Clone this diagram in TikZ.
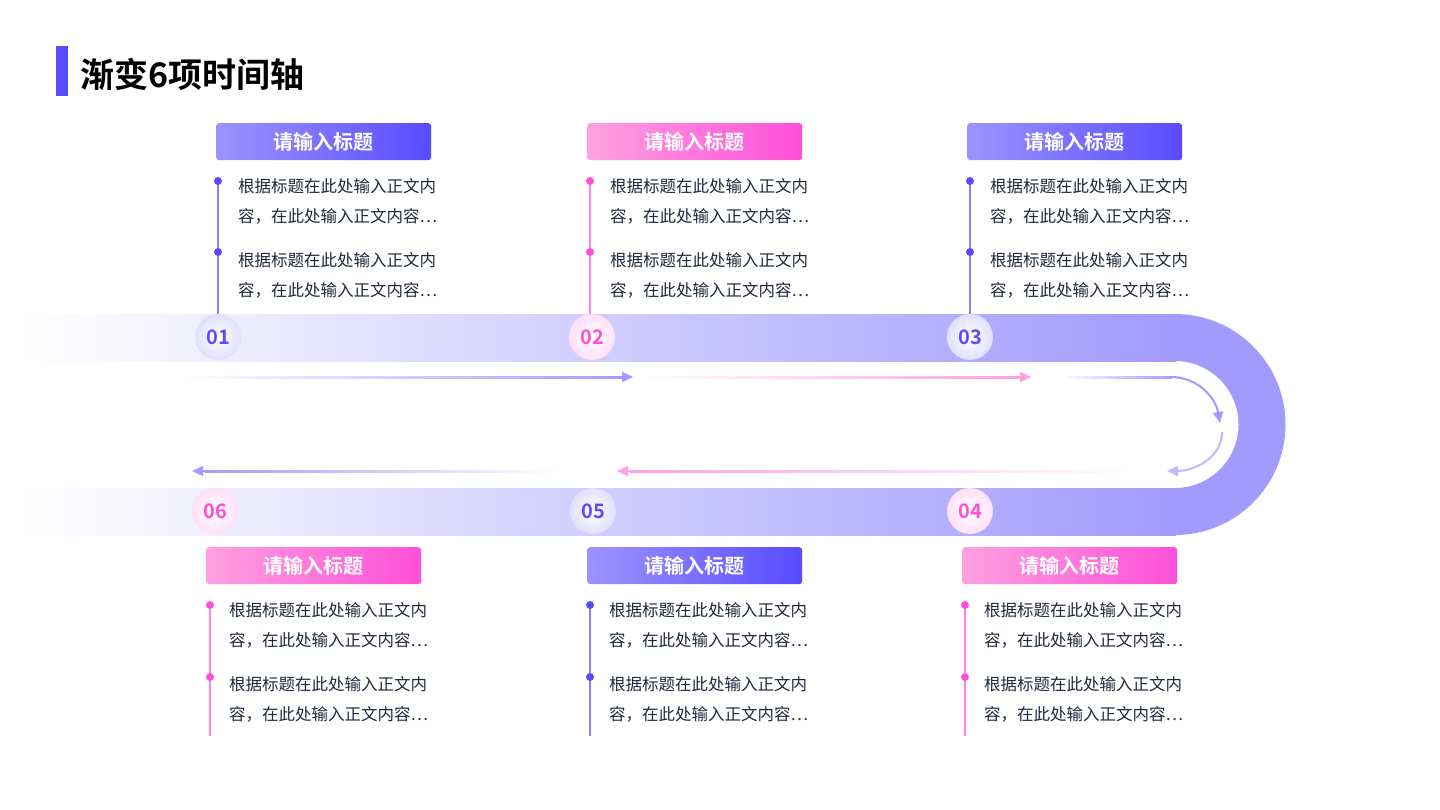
\documentclass[tikz,border=0pt]{standalone}
\usepackage{fontspec}
\setmainfont{Noto Sans CJK SC}[BoldFont={Noto Sans CJK SC Bold}]
\usetikzlibrary{arrows.meta,positioning}
\definecolor{vio}{RGB}{90,75,255}
\definecolor{violt}{RGB}{155,148,255}
\definecolor{band}{RGB}{162,155,254}
\definecolor{pnk}{RGB}{255,79,216}
\definecolor{pnklt}{RGB}{255,160,225}
\definecolor{txt}{RGB}{30,40,60}
\tikzset{
  titlebox/.style={minimum width=215pt, minimum height=37pt, rounded corners=3pt,
    text=white, font=\bfseries\fontsize{20}{20}\selectfont},
  numdot/.style={circle, minimum size=46pt, inner sep=0pt, font=\bfseries\fontsize{20}{20}\selectfont},
  bodytext/.style={anchor=north west, inner sep=0pt, align=left, text=txt,
    font=\fontsize{16.5}{30}\selectfont},
  tip/.style={-{Triangle[length=11pt,width=10pt]}, line width=2pt}
}
\begin{document}
\begin{tikzpicture}[x=1pt,y=-1pt]
  \useasboundingbox (0,0) rectangle (1440,810);

  % heading
  \fill[vio] (56,46) rectangle (68,96);
  \node[anchor=west, inner sep=0pt, font=\bfseries\fontsize{34}{34}\selectfont] (head) at (80,74) {渐变6项时间轴};

  % band
  \shade[left color=white, right color=band] (20,314) rectangle (1176,361);
  \shade[left color=white, right color=band] (20,488) rectangle (1176,535);
  \fill[band] (1175,314) arc[start angle=-90, end angle=90, radius=110.5]
    -- (1175,488) arc[start angle=90, end angle=-90, radius=63.5] -- cycle;

  % arrows
  \shade[left color=white, right color=band] (180,376) rectangle (622,378);
  \coordinate (a1) at (620,377); \coordinate (a1e) at (633,377);
  \draw[tip, band] (a1) -- (a1e);
  \shade[left color=white, right color=pnklt] (640,376) rectangle (1020,378);
  \coordinate (a2) at (1018,377); \coordinate (a2e) at (1031,377);
  \draw[tip, pnklt] (a2) -- (a2e);
  \shade[left color=white, right color=band] (1060,376) rectangle (1172,378);
  \coordinate (c1) at (1171,377); \coordinate (c1e) at (1220,423);
  \draw[tip, band] (c1) to[out=0, in=100] (c1e);
  \coordinate (c2) at (1222,432); \coordinate (c2e) at (1167,471);
  \draw[tip, band!70] (c2) to[out=-90, in=0] (c2e);
  \shade[left color=pnklt, right color=white] (630,470) rectangle (1140,472);
  \coordinate (a4) at (631,471); \coordinate (a4e) at (617,471);
  \draw[tip, pnklt] (a4) -- (a4e);
  \shade[left color=band, right color=white] (205,470) rectangle (560,472);
  \coordinate (a5) at (206,471); \coordinate (a5e) at (192,471);
  \draw[tip, band] (a5) -- (a5e);

  % upper cards: title x, line x, colors, number, circle x
  \foreach \bx/\lx/\cl/\cd/\num/\nx in {216/218/violt/vio/01/218, 587/590/pnklt/pnk/02/592, 967/970/violt/vio/03/970}{
    \node[titlebox, left color=\cl, right color=\cd, anchor=north west] (t\num) at (\bx,123) {请输入标题};
    \draw[\cd!70, line width=1.2pt] (\lx,181) -- (\lx,314);
    \fill[\cd] (\lx,181) circle (4pt) (\lx,252) circle (4pt);
    \node[bodytext] (p\num) at (\lx+20,178) {根据标题在此处输入正文内\\容，在此处输入正文内容…};
    \node[bodytext] (q\num) at (\lx+20,252) {根据标题在此处输入正文内\\容，在此处输入正文内容…};
    \node[numdot, inner color=white, outer color=\cd!18, text=\cd] (n\num) at (\nx,337) {\num};
  }
  % lower cards
  \foreach \bx/\lx/\cl/\cd/\num/\nx in {206/210/pnklt/pnk/06/215, 587/590/violt/vio/05/593, 962/965/pnklt/pnk/04/970}{
    \node[titlebox, left color=\cl, right color=\cd, anchor=north west] (t\num) at (\bx,547) {请输入标题};
    \draw[\cd!70, line width=1.2pt] (\lx,605) -- (\lx,736);
    \fill[\cd] (\lx,605) circle (4pt) (\lx,677) circle (4pt);
    \node[bodytext] (p\num) at (\lx+19,602) {根据标题在此处输入正文内\\容，在此处输入正文内容…};
    \node[bodytext] (q\num) at (\lx+19,676) {根据标题在此处输入正文内\\容，在此处输入正文内容…};
    \node[numdot, inner color=white, outer color=\cd!18, text=\cd] (n\num) at (\nx,511) {\num};
  }
\end{tikzpicture}
\end{document}
